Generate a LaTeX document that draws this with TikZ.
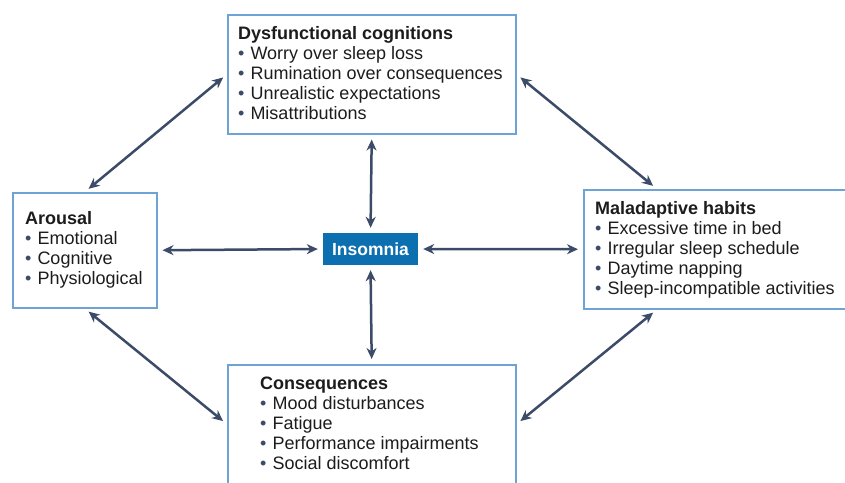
\documentclass[tikz,border=0pt]{standalone}
\usepackage{fontspec}
\setmainfont{Liberation Sans}
\usepackage{xcolor}
\usetikzlibrary{arrows.meta}

\definecolor{boxblue}{HTML}{6FA3D6}
\definecolor{insblue}{HTML}{0B6FB0}
\definecolor{linkgray}{HTML}{3B4B68}
\definecolor{txtgray}{HTML}{1C1C1C}

% one bullet line
\newcommand{\itm}[1]{{\color{linkgray}\textbullet}\hspace{6pt}#1}

\tikzset{
  box/.style={draw=boxblue, line width=1.5pt, anchor=north west, inner sep=0pt},
  list/.style={anchor=north west, inner sep=0pt, align=left, text=txtgray,
    font=\fontsize{18}{20}\selectfont},
  link/.style={draw=linkgray, line width=2.5pt,
    {Stealth[length=11pt,width=10pt,inset=3.5pt]}-{Stealth[length=11pt,width=10pt,inset=3.5pt]},
    shorten <=5pt, shorten >=5pt},
}

\begin{document}
\begin{tikzpicture}[x=1pt,y=-1pt]
\useasboundingbox (0,0) rectangle (845,482);

% frames
\node at (227,14) (cogn)[box, minimum width=288, minimum height=119]{};
\node at (12,192) (arousal)[box, minimum width=144, minimum height=115]{};
\node at (583,189) (habits)[box, minimum width=280, minimum height=119]{};
\node at (227,364) (conseq)[box, minimum width=288, minimum height=119]{};

% contents
\node at ([shift={(11pt,-12pt)}]cogn.north west) (cogntxt)[list]{\textbf{Dysfunctional cognitions}\\
  \itm{Worry over sleep loss}\\ \itm{Rumination over consequences}\\
  \itm{Unrealistic expectations}\\ \itm{Misattributions}};
\node at ([shift={(13pt,-19pt)}]arousal.north west) (arousaltxt)[list]{\textbf{Arousal}\\
  \itm{Emotional}\\ \itm{Cognitive}\\ \itm{Physiological}};
\node at ([shift={(12pt,-12pt)}]habits.north west) (habitstxt)[list]{\textbf{Maladaptive habits}\\
  \itm{Excessive time in bed}\\ \itm{Irregular sleep schedule}\\
  \itm{Daytime napping}\\ \itm{Sleep-incompatible activities}};
\node at ([shift={(33pt,-13pt)}]conseq.north west) (conseqtxt)[list]{\textbf{Consequences}\\
  \itm{Mood disturbances}\\ \itm{Fatigue}\\
  \itm{Performance impairments}\\ \itm{Social discomfort}};

\node at (370.5,249) (insomnia)[fill=insblue, text=white, inner sep=0pt,
  font=\bfseries\fontsize{17.5}{20}\selectfont, minimum width=95, minimum height=32]{Insomnia};

% two-way links
\draw[link] (cogn.west) -- (arousal.north);
\draw[link] (cogn.east) -- ([xshift=74pt]habits.north west);
\draw[link] (arousal.south) -- (conseq.west);
\draw[link] ([xshift=74pt]habits.south west) -- (conseq.east);
\draw[link] (cogn.south) -- (insomnia.north);
\draw[link] (insomnia.south) -- (conseq.north);
\draw[link] (arousal.east) -- (insomnia.west);
\draw[link] (insomnia.east) -- (habits.west);
\end{tikzpicture}
\end{document}
